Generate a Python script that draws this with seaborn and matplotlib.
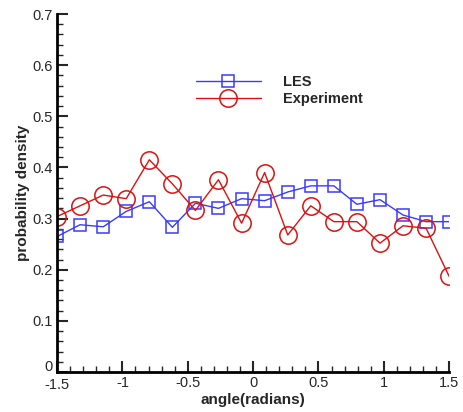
import numpy as np
import pandas as pd
import matplotlib
matplotlib.use("Agg")
import matplotlib.pyplot as plt
import matplotlib.transforms as mtrans
import seaborn as sns
from matplotlib.ticker import MultipleLocator

angle = [-1.5, -1.324, -1.147, -0.971, -0.794, -0.618, -0.441, -0.265, -0.088,
         0.088, 0.265, 0.441, 0.618, 0.794, 0.971, 1.147, 1.324, 1.5]
les = [0.265, 0.288, 0.284, 0.314, 0.333, 0.283, 0.330, 0.320, 0.339,
       0.335, 0.352, 0.364, 0.364, 0.328, 0.337, 0.307, 0.294, 0.294]
experiment = [0.304, 0.325, 0.346, 0.339, 0.415, 0.368, 0.316, 0.376, 0.291,
              0.390, 0.268, 0.325, 0.294, 0.294, 0.252, 0.286, 0.281, 0.187]
series_names = ["LES", "Experiment"]
xticks = [-1.5, -1, -0.5, 0, 0.5, 1, 1.5]
yticks = [0, 0.1, 0.2, 0.3, 0.4, 0.5, 0.6, 0.7]

df = pd.DataFrame({
    "angle": angle * 2,
    "density": les + experiment,
    "series": [series_names[0]] * len(les) + [series_names[1]] * len(experiment),
})

sns.set_style("white")
plt.rcParams["font.family"] = ["Liberation Sans", "DejaVu Sans"]

fig = plt.figure(figsize=(4.64, 4.12), dpi=100)
ax = fig.add_axes([0.123, 0.097, 0.845, 0.869])

colors = {"LES": "#3a3aff", "Experiment": "#dd1010"}
styles = {"LES": dict(marker="s", ms=9), "Experiment": dict(marker="o", ms=12.5)}
for name in series_names:
    sub = df[df["series"] == name]
    sns.lineplot(data=sub, x="angle", y="density", ax=ax, color=colors[name],
                 marker=styles[name]["marker"], markersize=styles[name]["ms"],
                 markerfacecolor="none", markeredgecolor=colors[name],
                 markeredgewidth=1.1, linewidth=1.0, label=name, sort=False)

ax.set_xlim(-1.5, 1.5)
ax.set_ylim(0, 0.7)
ax.set_xticks(xticks)
ax.set_xticklabels(["-1.5", "-1", "-0.5", "0", "0.5", "1", "1.5"])
ax.set_yticks(yticks)
ax.set_yticklabels(["0", "0.1", "0.2", "0.3", "0.4", "0.5", "0.6", "0.7"])
ax.xaxis.set_minor_locator(MultipleLocator(0.1))
ax.yaxis.set_minor_locator(MultipleLocator(0.02))
ax.tick_params(which="major", direction="in", length=8, width=1.5, labelsize=10.5,
               bottom=True, left=True, pad=3)
ax.tick_params(which="minor", direction="in", length=4, width=1.0, bottom=True, left=True)
for s in ["top", "right"]:
    ax.spines[s].set_visible(False)
for s in ["left", "bottom"]:
    ax.spines[s].set_linewidth(2)
    ax.spines[s].set_color("black")

# nudge the y "0" label up so it does not collide with "-1.5"
ylab0 = ax.get_yticklabels()[0]
ylab0.set_transform(ylab0.get_transform() +
                    mtrans.ScaledTranslation(0, 5 / 72, fig.dpi_scale_trans))
xlab0 = ax.get_xticklabels()[0]
xlab0.set_transform(xlab0.get_transform() +
                    mtrans.ScaledTranslation(0, -1 / 72, fig.dpi_scale_trans))

ax.set_xlabel("angle(radians)", fontsize=11, fontweight="bold", labelpad=1)
ax.set_ylabel("probability density", fontsize=11, fontweight="bold", labelpad=2)

leg = ax.legend(loc="upper left", bbox_to_anchor=(0.32, 0.865), frameon=False,
                prop={"weight": "bold", "size": 10.5}, handlelength=4.5,
                handletextpad=1.5, labelspacing=0.2)

fig.savefig("out.png", dpi=100)
